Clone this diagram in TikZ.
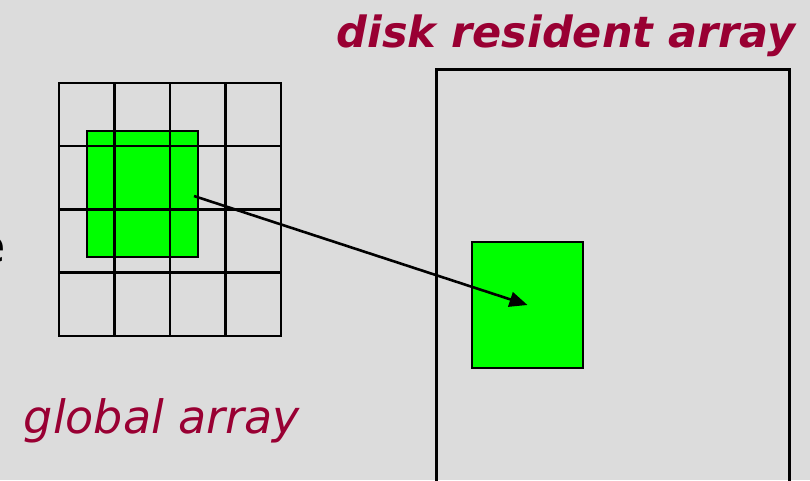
\documentclass[tikz,border=0pt]{standalone}
\usepackage{fontspec}
\setmainfont{DejaVu Sans}
\usepackage{xcolor}
\usepackage{tikz}
\usetikzlibrary{arrows.meta,positioning}
\definecolor{slidebg}{HTML}{DCDCDC}
\definecolor{maroon}{HTML}{990033}
\definecolor{patchgreen}{HTML}{00FF00}
\tikzset{
  patchbox/.style={
    rectangle, draw=black, fill=patchgreen, line width=2.8pt,
    minimum width=111pt, minimum height=126pt,
    inner sep=0pt
  },
  diskbox/.style={
    rectangle, draw=black, line width=2.8pt,
    minimum width=353pt, minimum height=440pt,
    inner sep=0pt
  },
  gridline/.style={
    line width=2.8pt, color=black, line cap=rect
  },
  maparrow/.style={
    -{Triangle[length=18pt,width=15pt]}, line width=2.6pt, color=black
  },
  titlelabel/.style={
    font=\fontsize{43}{50}\selectfont\bfseries\itshape, text=maroon,
    inner sep=0pt
  },
  caplabel/.style={
    font=\fontsize{46}{54}\selectfont\itshape, text=maroon,
    inner sep=0pt
  },
}
\begin{document}
\begin{tikzpicture}[x=1pt, y=-1pt]

\fill[slidebg] (0,0) rectangle (810,480);
\useasboundingbox (0,0) rectangle (810,480);
\clip (0,0) rectangle (810,480);

% Cut-off word at the left edge
\node[font=\fontsize{46}{54}\selectfont, inner sep=0pt, anchor=base east] (cut) at (6,262) {e};

% Disk resident array
\node[diskbox, anchor=north west] (disk) at (435,68) {};
\node[patchbox] (blkdisk) at (527.5,305) {};
\node[titlelabel, anchor=base] (disklbl) at (566,47) {disk resident array};

% Global array: patch under the 4x4 grid
\node[patchbox] (blkga) at (142.5,194) {};
\foreach \x in {59,114.5,170,225.5,281}
  \draw[gridline] (\x,83) -- (\x,336);
\foreach \y in {83,146,209.5,272.5,336}
  \draw[gridline] (59,\y) -- (281,\y);
\node[caplabel, anchor=base] (galbl) at (162,433) {global array};

% Copy to disk
\coordinate (src) at (194,196);
\draw[maparrow] (src) -- (blkdisk.center);

\end{tikzpicture}
\end{document}
